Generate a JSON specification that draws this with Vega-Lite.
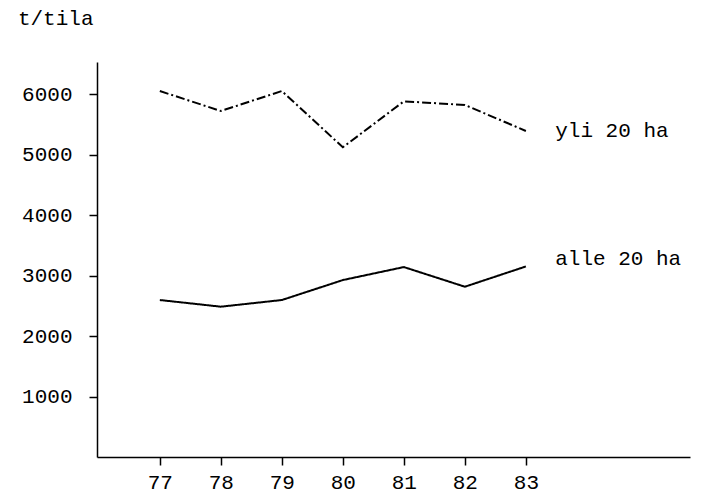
{
  "$schema": "https://vega.github.io/schema/vega-lite/v6.json",
  "width": 593,
  "height": 395,
  "autosize": {"type": "none"},
  "padding": {"left": 97, "top": 62, "right": 17, "bottom": 46},
  "background": "white",
  "config": {
    "view": {"stroke": null},
    "font": "Liberation Mono",
    "axis": {"domainColor": "black", "tickColor": "black", "labelColor": "black", "titleColor": "black", "domainWidth": 1.5, "tickWidth": 1.5, "grid": false}
  },
  "datasets": {
    "series": [
      {"vuosi": 77, "t": 6050, "ryhma": "yli 20 ha"},
      {"vuosi": 78, "t": 5720, "ryhma": "yli 20 ha"},
      {"vuosi": 79, "t": 6050, "ryhma": "yli 20 ha"},
      {"vuosi": 80, "t": 5120, "ryhma": "yli 20 ha"},
      {"vuosi": 81, "t": 5880, "ryhma": "yli 20 ha"},
      {"vuosi": 82, "t": 5820, "ryhma": "yli 20 ha"},
      {"vuosi": 83, "t": 5390, "ryhma": "yli 20 ha"},
      {"vuosi": 77, "t": 2595, "ryhma": "alle 20 ha"},
      {"vuosi": 78, "t": 2485, "ryhma": "alle 20 ha"},
      {"vuosi": 79, "t": 2595, "ryhma": "alle 20 ha"},
      {"vuosi": 80, "t": 2925, "ryhma": "alle 20 ha"},
      {"vuosi": 81, "t": 3140, "ryhma": "alle 20 ha"},
      {"vuosi": 82, "t": 2815, "ryhma": "alle 20 ha"},
      {"vuosi": 83, "t": 3150, "ryhma": "alle 20 ha"}
    ],
    "labels": [
      {"vuosi": 83.48, "t": 5388, "ryhma": "yli 20 ha"},
      {"vuosi": 83.48, "t": 3273, "ryhma": "alle 20 ha"}
    ]
  },
  "layer": [
    {
      "data": {"name": "series"},
      "mark": {"type": "line", "color": "black", "strokeWidth": 2},
      "encoding": {
        "x": {
          "field": "vuosi", "type": "quantitative",
          "scale": {"domain": [75.97, 85.69], "nice": false, "zero": false},
          "axis": {"values": [77, 78, 79, 80, 81, 82, 83], "title": null, "labelFontSize": 21, "tickSize": 8, "labelPadding": 6, "format": "d"}
        },
        "y": {
          "field": "t", "type": "quantitative",
          "scale": {"domain": [0, 6530], "nice": false},
          "axis": {"values": [1000, 2000, 3000, 4000, 5000, 6000], "format": "d", "labelFontSize": 21, "tickSize": 8, "labelPadding": 17,
                   "title": "t/tila", "titleAngle": 0, "titleFontSize": 21, "titleFontWeight": "normal", "titleAlign": "right", "titleBaseline": "alphabetic", "titleX": -4, "titleY": -38}
        },
        "strokeDash": {
          "field": "ryhma", "type": "nominal",
          "scale": {"domain": ["yli 20 ha", "alle 20 ha"], "range": [[9, 3, 2, 3], [1, 0]]},
          "legend": null
        }
      }
    },
    {
      "data": {"name": "labels"},
      "mark": {"type": "text", "align": "left", "baseline": "middle", "fontSize": 21, "color": "black", "font": "Liberation Mono"},
      "encoding": {
        "x": {"field": "vuosi", "type": "quantitative"},
        "y": {"field": "t", "type": "quantitative"},
        "text": {"field": "ryhma"}
      }
    }
  ]
}
